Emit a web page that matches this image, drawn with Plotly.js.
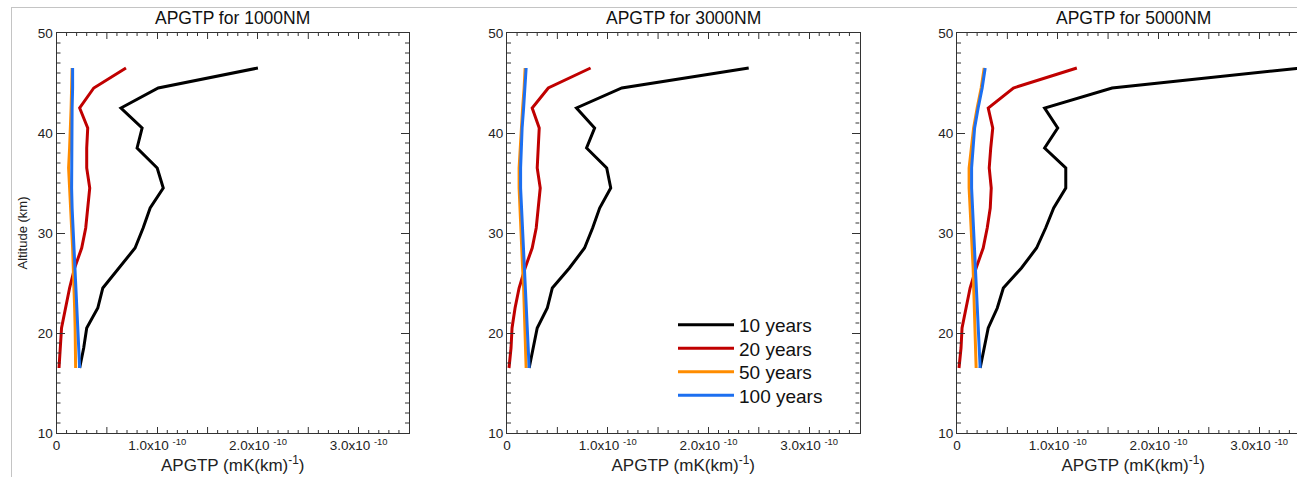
<!DOCTYPE html>
<html>
<head>
<meta charset="utf-8">
<script src="https://cdn.plot.ly/plotly-3.0.1.min.js"></script>
<style>
  html, body { margin: 0; padding: 0; background: #fff; overflow: hidden; }
  #frame { position: absolute; left: 11px; top: 7px; width: 1400px; height: 500px;
           border-left: 1px solid #c4c4c4; border-top: 1px solid #c4c4c4; pointer-events: none; z-index: 5; }
  #chart { position: absolute; left: 0; top: 0; width: 1310px; height: 477px; }
</style>
</head>
<body>
<div id="chart"></div>
<div id="frame"></div>
<script>
// Altitude levels (km)
const altitude = [16.5, 18.5, 20.5, 22.5, 24.5, 26.5, 28.5, 30.5, 32.5, 34.5, 36.5, 38.5, 40.5, 42.5, 44.5, 46.5];

// Panel titles and series names
const panelTitles = ["APGTP for 1000NM", "APGTP for 3000NM", "APGTP for 5000NM"];
const seriesNames = ["10 years", "20 years", "50 years", "100 years"];

// Values in units of 1e-10 mK/km
const UNIT = 1e-10;
const nm1000_10y  = [0.23, 0.27, 0.30, 0.41, 0.46, 0.62, 0.78, 0.86, 0.93, 1.06, 1.00, 0.80, 0.85, 0.64, 1.01, 2.00];
const nm1000_20y  = [0.025, 0.04, 0.05, 0.09, 0.13, 0.18, 0.25, 0.29, 0.31, 0.33, 0.30, 0.30, 0.31, 0.23, 0.37, 0.69];
const nm1000_50y  = [0.19, 0.19, 0.185, 0.18, 0.175, 0.17, 0.16, 0.15, 0.14, 0.125, 0.12, 0.13, 0.14, 0.145, 0.15, 0.155];
const nm1000_100y = [0.23, 0.22, 0.21, 0.20, 0.19, 0.18, 0.17, 0.16, 0.155, 0.15, 0.15, 0.15, 0.155, 0.155, 0.16, 0.16];

const nm3000_10y  = [0.22, 0.26, 0.30, 0.40, 0.45, 0.62, 0.77, 0.85, 0.92, 1.03, 0.99, 0.79, 0.87, 0.69, 1.14, 2.40];
const nm3000_20y  = [0.02, 0.04, 0.05, 0.08, 0.12, 0.18, 0.25, 0.29, 0.31, 0.33, 0.30, 0.31, 0.32, 0.25, 0.41, 0.83];
const nm3000_50y  = [0.19, 0.185, 0.18, 0.175, 0.165, 0.155, 0.145, 0.135, 0.125, 0.12, 0.12, 0.13, 0.14, 0.155, 0.17, 0.18];
const nm3000_100y = [0.22, 0.21, 0.20, 0.19, 0.18, 0.17, 0.16, 0.15, 0.14, 0.135, 0.135, 0.14, 0.15, 0.165, 0.18, 0.19];

const nm5000_10y  = [0.23, 0.27, 0.31, 0.40, 0.46, 0.64, 0.79, 0.88, 0.96, 1.08, 1.08, 0.87, 1.00, 0.87, 1.54, 3.42];
const nm5000_20y  = [0.02, 0.04, 0.05, 0.09, 0.13, 0.19, 0.26, 0.30, 0.33, 0.34, 0.32, 0.335, 0.355, 0.31, 0.56, 1.19];
const nm5000_50y  = [0.19, 0.185, 0.18, 0.175, 0.17, 0.16, 0.15, 0.14, 0.13, 0.12, 0.12, 0.14, 0.165, 0.20, 0.24, 0.27];
const nm5000_100y = [0.23, 0.22, 0.21, 0.20, 0.19, 0.18, 0.17, 0.16, 0.15, 0.145, 0.145, 0.16, 0.175, 0.21, 0.25, 0.28];

// Axis ticks (x in units of 1e-10)
const xTickVals = [0, 1.0, 2.0, 3.0];
const xTickText = ["0", "1.0x10 <sup>-10</sup>", "2.0x10 <sup>-10</sup>", "3.0x10 <sup>-10</sup>"];
const yTickVals = [10, 20, 30, 40, 50];
const yTickText = ["10", "20", "30", "40", "50"];

const colors = ["#000000", "#c00000", "#ff8c00", "#1c6ff0"];
const panels = [
  [nm1000_10y, nm1000_20y, nm1000_50y, nm1000_100y],
  [nm3000_10y, nm3000_20y, nm3000_50y, nm3000_100y],
  [nm5000_10y, nm5000_20y, nm5000_50y, nm5000_100y]
];

const W = 1310, H = 477;
const plotW = 352.5;
const lefts = [56.5, 507, 957];
const yDom = [(H - 433) / H, (H - 33) / H];
const legendRowsY = [325, 348.5, 372, 395.5];
const legendNames = ["legend", "legend2", "legend3", "legend4"];

const traces = [];
panels.forEach((series, p) => {
  series.forEach((vals, s) => {
    traces.push({
      type: "scatter", mode: "lines",
      x: vals.map(v => v * UNIT), y: altitude,
      name: seriesNames[s],
      legend: legendNames[s],
      showlegend: p === 1,
      line: { color: colors[s], width: 3 },
      xaxis: p === 0 ? "x" : "x" + (p + 1),
      yaxis: p === 0 ? "y" : "y" + (p + 1),
      hoverinfo: "skip"
    });
  });
});

const font = "Liberation Sans, Arial, sans-serif";
const tickCol = "#333";
const layout = {
  width: W, height: H,
  margin: { l: 0, r: 0, t: 0, b: 0 },
  paper_bgcolor: "#ffffff", plot_bgcolor: "#ffffff",
  font: { family: font, color: "#111" },
  showlegend: true,
  annotations: [],
  shapes: []
};

legendNames.forEach((ln, i) => {
  layout[ln] = {
    x: 673 / W, y: (H - legendRowsY[i]) / H, xanchor: "left", yanchor: "middle",
    bgcolor: "rgba(0,0,0,0)", borderwidth: 0,
    font: { family: font, size: 19, color: "#111" },
    itemwidth: 56
  };
});

// small tick marks drawn as pixel-length shapes anchored to axis values
function xTick(xid, yid, v, len) {
  const base = { type: "line", xref: xid, yref: yid, ysizemode: "pixel", x0: v, x1: v, line: { color: tickCol, width: 1 }, layer: "above" };
  layout.shapes.push(Object.assign({}, base, { yanchor: 10, y0: 0, y1: len }));
  layout.shapes.push(Object.assign({}, base, { yanchor: 50, y0: 0, y1: -len }));
}
function yTick(xid, yid, v, len) {
  const base = { type: "line", xref: xid, yref: yid, xsizemode: "pixel", y0: v, y1: v, line: { color: tickCol, width: 1 }, layer: "above" };
  layout.shapes.push(Object.assign({}, base, { xanchor: 0, x0: 0, x1: len }));
  layout.shapes.push(Object.assign({}, base, { xanchor: 3.5 * UNIT, x0: 0, x1: -len }));
}

for (let p = 0; p < 3; p++) {
  const xa = p === 0 ? "xaxis" : "xaxis" + (p + 1);
  const ya = p === 0 ? "yaxis" : "yaxis" + (p + 1);
  const yid = p === 0 ? "y" : "y" + (p + 1);
  const xid = p === 0 ? "x" : "x" + (p + 1);
  const dom = [lefts[p] / W, (lefts[p] + plotW) / W];

  layout[xa] = {
    domain: dom, anchor: yid, range: [0, 3.5 * UNIT],
    tickmode: "array",
    tickvals: xTickVals.map(v => v * UNIT),
    ticktext: xTickText,
    ticks: "inside", ticklen: 6, tickwidth: 1, tickcolor: tickCol,
    showline: true, linecolor: tickCol, linewidth: 1, mirror: "allticks",
    showgrid: false, zeroline: false,
    tickfont: { family: font, size: 13.5, color: "#222" },
    title: { text: "APGTP (mK(km)<sup>-1</sup>)", font: { family: font, size: 17, color: "#222" }, standoff: 5 },
    fixedrange: true
  };
  const ycfg = {
    domain: yDom, anchor: xid, range: [10, 50],
    tickmode: "array",
    tickvals: yTickVals,
    ticktext: yTickText,
    ticks: "inside", ticklen: 8, tickwidth: 1, tickcolor: tickCol,
    showline: true, linecolor: tickCol, linewidth: 1, mirror: "allticks",
    showgrid: false, zeroline: false,
    tickfont: { family: font, size: 13.5, color: "#222" },
    fixedrange: true
  };
  if (p === 0) {
    ycfg.title = { text: "Altitude (km)", font: { family: font, size: 13, color: "#222" }, standoff: 7 };
  }
  layout[ya] = ycfg;

  // x: every 0.1 unit a small tick, every 0.5 unit a long one (labelled ones come from the axis)
  for (let i = 1; i < 35; i++) {
    if (i % 10 === 0) continue;
    xTick(xid, yid, i / 10 * UNIT, i % 5 === 0 ? 6 : 3);
  }
  // y: every 1 km a small tick
  for (let v = 11; v < 50; v++) {
    if (v % 10 === 0) continue;
    yTick(xid, yid, v, 4);
  }

  layout.annotations.push({
    text: panelTitles[p], xref: "paper", yref: "paper",
    x: (lefts[p] + plotW / 2) / W, y: (H - 18) / H,
    xanchor: "center", yanchor: "middle", showarrow: false,
    font: { family: font, size: 17.5, color: "#111" }
  });
}

Plotly.newPlot("chart", traces, layout, { displayModeBar: false, staticPlot: true });
</script>
</body>
</html>
